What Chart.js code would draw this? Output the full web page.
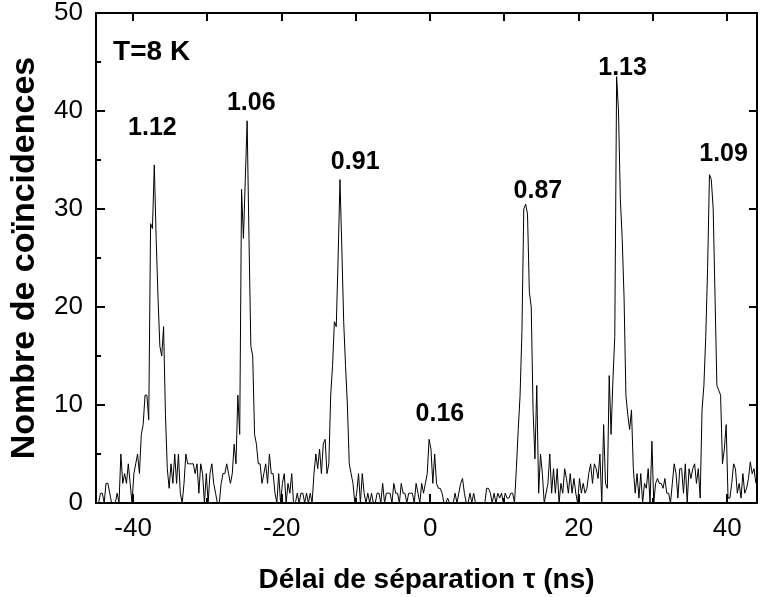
<!DOCTYPE html>
<html>
<head>
<meta charset="utf-8">
<script src="https://cdn.jsdelivr.net/npm/chart.js@4.4.1/dist/chart.umd.min.js"></script>
<style>
  html, body { margin: 0; padding: 0; background: #fff; }
  #wrap { width: 760px; height: 597px; }
</style>
</head>
<body>
<div id="wrap"><canvas id="g2"></canvas></div>
<script>
const FONT = "'Liberation Sans', Arial, sans-serif";

// histogram bins (ns)
const firstBin = -44.9;
const binWidth = 0.25;

// coincidences per bin, 20 bins (5 ns) per line
const counts = [
  0, 0, 1, 1, 0, 2, 2, 1, 0, 0, 0, 1, 0, 5, 2, 3, 2, 4, 2, 0,
  3, 4, 5, 3, 7, 8, 11, 11, 8.5, 28.5, 28, 34.5, 27, 21, 16, 15, 18, 9, 3.5, 1.5,
  4, 2, 5, 2, 5, 1, 0, 2, 5, 4, 4, 4, 4, 3, 4, 1, 4, 3, 0, 3,
  0, 3, 4, 2, 1, 0, 0, 2, 3, 3, 4, 3, 2, 3, 6, 4, 11, 7, 32, 27,
  33, 39, 27, 16, 15, 7, 6, 4, 4, 2, 3, 4, 2, 5, 3, 3, 1, 0, 3, 0,
  2, 3, 0, 2, 1, 3, 0, 0, 1, 0, 1, 1, 0, 1, 0, 1, 0, 3, 5, 3.5,
  5.5, 3, 6, 6.5, 3, 4, 11, 14, 18.5, 18, 25, 33, 26, 18.5, 14, 10, 4, 3, 2, 0,
  1, 3, 0, 3, 1, 0, 1, 0, 1, 0, 0, 1, 1, 0, 2, 0, 1, 1, 1, 0,
  2, 1, 1, 0, 2, 1, 1, 0, 1, 1, 1, 0, 2, 1, 0, 2, 1, 2, 3, 6.5,
  5.5, 2, 5, 2, 1.5, 1.5, 1, 0, 0, 0.5, 0, 0, 0, 1, 0, 1, 2, 2.5, 1, 0,
  0, 1, 0, 1, 0, 0, 0, 0, 0, 0, 1.5, 1.5, 1, 0, 1, 0, 1, 0.5, 1, 0,
  1, 0.5, 0.5, 1, 1, 0, 3.5, 7.5, 11, 17.5, 30, 30.5, 29.5, 21.5, 20, 9.5, 4.5, 12, 1, 5,
  3, 0, 1, 2, 5, 1, 3.5, 1, 3.5, 0, 2, 1, 3.5, 2.5, 1, 3, 1, 2.5, 1, 0,
  2.5, 1, 2, 1, 1.5, 3, 4, 2, 4, 3.5, 2.5, 5, 0, 8, 2, 1.5, 13, 7, 12.5, 17,
  43.5, 40, 31, 27, 21, 11, 9, 7.5, 9.5, 3.5, 1, 3, 0.5, 3, 0, 2, 1.5, 3.5, 0, 6.3,
  0, 2, 2.5, 2, 2, 1.5, 2.5, 1, 1, 0, 2, 4, 3, 0.5, 3.5, 3.5, 1, 4, 0, 3.5,
  2.5, 3.5, 4, 2, 3.5, 0.5, 9.5, 12, 17, 24, 33.5, 33, 30, 21, 12, 11.5, 11, 4, 5.5, 8,
  0.5, 0.5, 2, 4, 3.5, 1, 2, 0.5, 3, 1, 1.5, 2.5, 4.2, 3, 3.5, 2
];

const xTicks = [-40, -20, 0, 20, 40];
const yTicks = [0, 10, 20, 30, 40, 50];

// normalised peak areas written over each peak
const peakText = ["1.12", "1.06", "0.91", "0.16", "0.87", "1.13", "1.09"];
// where the labels sit, in data units (tau, counts)
const peakTau = [-37.4, -24.1, -10.1, 1.3, 14.5, 25.9, 39.5];
const peakLevel = [38.3, 40.8, 34.8, 9.1, 31.8, 44.4, 35.6];

const points = counts.map((c, i) => ({ x: firstBin + i * binWidth, y: c }));

// frame, inward ticks and the text annotations
const framePlugin = {
  id: 'frame',
  afterDatasetsDraw(chart) {
    const { ctx, chartArea: a, scales: { x, y } } = chart;
    ctx.save();
    ctx.strokeStyle = '#000';
    ctx.lineWidth = 2;
    ctx.strokeRect(a.left, a.top, a.right - a.left, a.bottom - a.top);

    ctx.beginPath();
    for (let t = -40; t <= 40; t += 10) {
      const px = Math.round(x.getPixelForValue(t));
      const len = t % 20 === 0 ? 9 : 5;
      ctx.moveTo(px, a.bottom); ctx.lineTo(px, a.bottom - len);
      ctx.moveTo(px, a.top); ctx.lineTo(px, a.top + 8);
    }
    for (let v = 5; v < 50; v += 5) {
      const py = Math.round(y.getPixelForValue(v));
      const len = v % 10 === 0 ? 9 : 5;
      ctx.moveTo(a.left, py); ctx.lineTo(a.left + len, py);
      if (v % 10 === 0) { ctx.moveTo(a.right, py); ctx.lineTo(a.right - 8, py); }
    }
    ctx.stroke();

    ctx.fillStyle = '#000';
    ctx.textBaseline = 'middle';
    ctx.textAlign = 'center';
    ctx.font = 'bold 25px ' + FONT;
    peakText.forEach((txt, i) => {
      ctx.fillText(txt, x.getPixelForValue(peakTau[i]), y.getPixelForValue(peakLevel[i]));
    });
    ctx.textAlign = 'left';
    ctx.font = 'bold 28px ' + FONT;
    ctx.fillText('T=8 K', x.getPixelForValue(-42.7), y.getPixelForValue(46.0));
    ctx.restore();
  }
};

new Chart(document.getElementById('g2'), {
  type: 'line',
  data: {
    datasets: [{
      data: points,
      borderColor: '#000',
      borderWidth: 1,
      pointRadius: 0,
      tension: 0,
      fill: false
    }]
  },
  options: {
    responsive: true,
    maintainAspectRatio: false,
    animation: false,
    layout: { padding: { top: 13, right: 3, left: 0, bottom: 0 } },
    plugins: { legend: { display: false }, tooltip: { enabled: false } },
    scales: {
      x: {
        type: 'linear',
        min: -45,
        max: 44,
        afterBuildTicks: s => { s.ticks = xTicks.map(v => ({ value: v })); },
        afterFit: s => { s.height = 94; s.paddingLeft = 0; s.paddingRight = 0; },
        grid: { display: false, drawTicks: false },
        border: { display: false },
        ticks: { color: '#000', padding: 10, maxRotation: 0, font: { family: FONT, size: 26 } },
        title: {
          display: true,
          text: 'Délai de séparation τ (ns)',
          color: '#000',
          padding: { top: 0, bottom: 0 },
          font: { family: FONT, size: 28, weight: 'bold' }
        }
      },
      y: {
        min: 0,
        max: 50,
        afterBuildTicks: s => { s.ticks = yTicks.map(v => ({ value: v })); },
        afterFit: s => { s.width = 96; s.paddingTop = 0; s.paddingBottom = 0; },
        grid: { display: false, drawTicks: false },
        border: { display: false },
        ticks: { color: '#000', padding: 13, font: { family: FONT, size: 26 } },
        title: {
          display: true,
          text: 'Nombre de coïncidences',
          color: '#000',
          padding: { top: 4, bottom: 0 },
          font: { family: FONT, size: 34, weight: 'bold' }
        }
      }
    }
  },
  plugins: [framePlugin]
});
</script>
</body>
</html>
